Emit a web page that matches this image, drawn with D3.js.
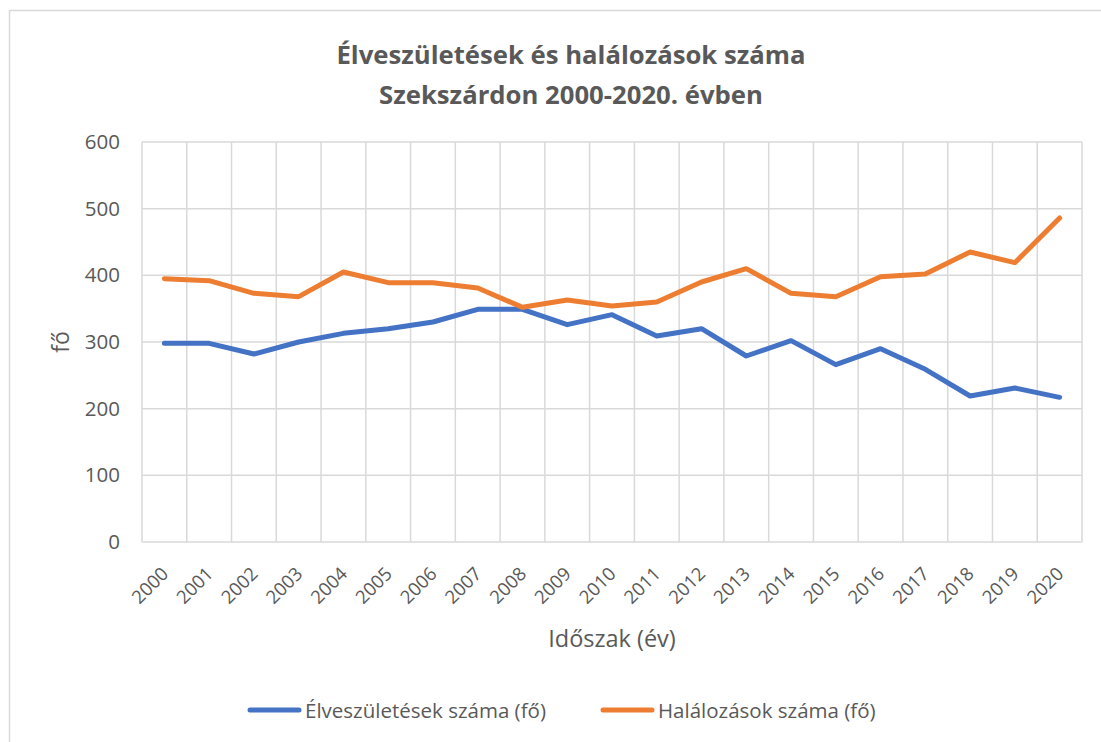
<!DOCTYPE html>
<html>
<head>
<meta charset="utf-8">
<script src="https://cdn.jsdelivr.net/npm/d3@7"></script>
<style>
  body { margin: 0; background: #fff; }
  svg { display: block; font-family: "Open Sans", sans-serif; }
</style>
</head>
<body>
<svg id="chart"></svg>
<script>
// data
const years = ["2000", "2001", "2002", "2003", "2004", "2005", "2006", "2007", "2008", "2009", "2010",
    "2011", "2012", "2013", "2014", "2015", "2016", "2017", "2018", "2019", "2020"];
const births = [298, 298, 282, 300, 313, 320, 330, 349, 349, 326, 341, 309, 320, 279, 302, 266, 290, 259, 219, 231, 217];
const deaths = [395, 392, 373, 368, 405, 389, 389, 381, 352, 363, 354, 360, 390, 410, 373, 368, 398, 402, 435, 419, 486];
const yTicks = [0, 100, 200, 300, 400, 500, 600];

const titleLines = ["Élveszületések és halálozások száma", "Szekszárdon 2000-2020. évben"];
const seriesNames = ["Élveszületések száma (fő)", "Halálozások száma (fő)"];
const colors = ["#4472c4", "#ed7d31"];

const w = 1101, h = 742;
const margin = { top: 142, right: 19, bottom: 200, left: 142 };
const textColor = "#595959";
const gridColor = "#d9d9d9";

const svg = d3.select("#chart")
    .attr("width", w)
    .attr("height", h);

// outer chart border (only left/top edges visible in frame)
svg.append("rect")
    .attr("x", 9.5).attr("y", 10.5)
    .attr("width", w + 20).attr("height", h + 20)
    .attr("fill", "none")
    .attr("stroke", gridColor)
    .attr("stroke-width", 1.5);

const xScale = d3.scaleBand()
    .domain(years)
    .range([margin.left, w - margin.right])
    .padding(0);

const yScale = d3.scaleLinear()
    .domain([0, 600])
    .range([h - margin.bottom, margin.top]);

// horizontal gridlines
svg.append("g")
    .selectAll("line")
    .data(yTicks)
    .join("line")
    .attr("x1", margin.left)
    .attr("x2", w - margin.right)
    .attr("y1", d => yScale(d))
    .attr("y2", d => yScale(d))
    .attr("stroke", gridColor)
    .attr("stroke-width", 1.5);

// vertical gridlines at category boundaries
const bounds = years.map(y => xScale(y)).concat([xScale(years[years.length - 1]) + xScale.bandwidth()]);
svg.append("g")
    .selectAll("line")
    .data(bounds)
    .join("line")
    .attr("x1", d => d)
    .attr("x2", d => d)
    .attr("y1", yScale(0))
    .attr("y2", yScale(600))
    .attr("stroke", gridColor)
    .attr("stroke-width", 1.5);

// y axis labels
let yAxis = g => g
    .attr("transform", `translate(${margin.left - 22},0)`)
    .call(d3.axisLeft(yScale).tickValues(yTicks).tickSize(0).tickPadding(0))
    .call(g => g.selectAll(".domain").remove())
    .call(g => g.selectAll("text")
        .attr("fill", textColor)
        .style("font-size", "20.5px")
        .style("font-family", "'Open Sans', sans-serif"));
svg.append("g").call(yAxis);

// x axis labels, rotated
let xAxis = g => g
    .attr("transform", `translate(0,${yScale(0)})`)
    .call(d3.axisBottom(xScale).tickSize(0).tickPadding(0))
    .call(g => g.selectAll(".domain").remove())
    .call(g => g.selectAll("text")
        .attr("fill", textColor)
        .style("font-size", "18.5px")
        .style("font-family", "'Open Sans', sans-serif")
        .attr("text-anchor", "end")
        .attr("dy", "0")
        .attr("transform", "translate(5,33) rotate(-45)"));
svg.append("g").call(xAxis);

// lines
const line = d3.line()
    .x((d, i) => xScale(years[i]) + xScale.bandwidth() / 2)
    .y(d => yScale(d));

[births, deaths].forEach((vals, i) => {
    svg.append("path")
        .datum(vals)
        .attr("fill", "none")
        .attr("stroke", colors[i])
        .attr("stroke-width", 5)
        .attr("stroke-linejoin", "round")
        .attr("stroke-linecap", "round")
        .attr("d", line);
});

// title
svg.append("g")
    .selectAll("text")
    .data(titleLines)
    .join("text")
    .attr("x", 571)
    .attr("y", (d, i) => 64 + i * 40)
    .attr("text-anchor", "middle")
    .attr("fill", textColor)
    .style("font-size", "25.7px")
    .style("font-weight", "bold")
    .text(d => d);

// axis titles
svg.append("text")
    .attr("transform", `translate(69,342) rotate(-90)`)
    .attr("text-anchor", "middle")
    .attr("fill", textColor)
    .style("font-size", "23px")
    .text("fő");

svg.append("text")
    .attr("x", 612)
    .attr("y", 647)
    .attr("text-anchor", "middle")
    .attr("fill", textColor)
    .style("font-size", "23.5px")
    .text("Időszak (év)");

// legend
const legendX = [250, 603];
const legend = svg.append("g")
    .selectAll("g")
    .data(seriesNames)
    .join("g")
    .attr("transform", (d, i) => `translate(${legendX[i]},710)`);

legend.append("line")
    .attr("x1", 0).attr("x2", 49)
    .attr("stroke", (d, i) => colors[i])
    .attr("stroke-width", 5)
    .attr("stroke-linecap", "round");

legend.append("text")
    .attr("x", 55)
    .attr("y", 7.5)
    .attr("fill", textColor)
    .style("font-size", "20.5px")
    .text(d => d);
</script>
</body>
</html>
